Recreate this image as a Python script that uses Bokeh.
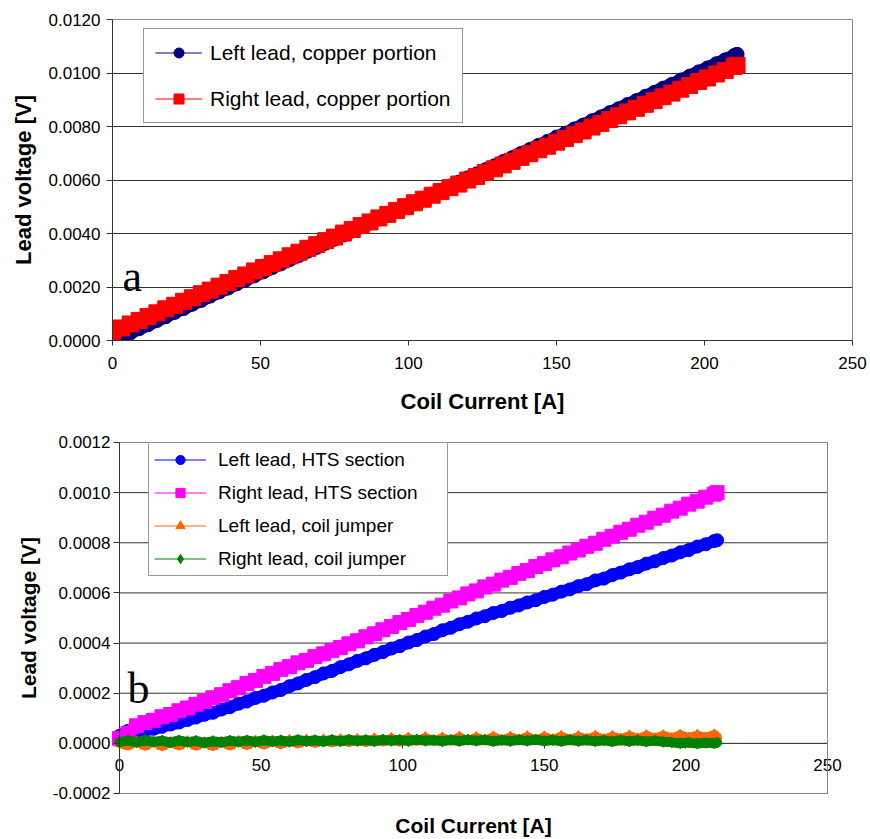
from bokeh.plotting import figure
from bokeh.models import Range1d, FixedTicker, NumeralTickFormatter, Label, LinearAxis
from bokeh.embed import file_html
from bokeh.resources import INLINE

# Coil current sweep [A], shared by every trace
CURRENT = [0, 3, 6, 9, 12, 15, 18, 21, 24, 27,
           30, 33, 36, 39, 42, 45, 48, 51, 54, 57,
           60, 63, 66, 69, 72, 75, 78, 81, 84, 87,
           90, 93, 96, 99, 102, 105, 108, 111, 114, 117,
           120, 123, 126, 129, 132, 135, 138, 141, 144, 147,
           150, 153, 156, 159, 162, 165, 168, 171, 174, 177,
           180, 183, 186, 189, 192, 195, 198, 201, 204, 207,
           210, 211]

# (a) copper portions of the current leads [V]
LEFT_COPPER = [-0.000020, 0.000135, 0.000282, 0.000440, 0.000588, 0.000745, 0.000890, 0.001050, 0.001195, 0.001356,
               0.001500, 0.001660, 0.001812, 0.001958, 0.002118, 0.002262, 0.002420, 0.002568, 0.002728, 0.002872,
               0.003030, 0.003178, 0.003338, 0.003482, 0.003640, 0.003786, 0.003946, 0.004092, 0.004250, 0.004396,
               0.004556, 0.004700, 0.004860, 0.005006, 0.005166, 0.005310, 0.005470, 0.005615, 0.005775, 0.005920,
               0.006080, 0.006226, 0.006384, 0.006530, 0.006690, 0.006835, 0.006994, 0.007140, 0.007300, 0.007445,
               0.007604, 0.007748, 0.007908, 0.008054, 0.008214, 0.008358, 0.008518, 0.008664, 0.008822, 0.008968,
               0.009128, 0.009272, 0.009432, 0.009578, 0.009738, 0.009882, 0.010042, 0.010188, 0.010346, 0.010492,
               0.010652, 0.010700]
RIGHT_COPPER = [0.000330, 0.000468, 0.000618, 0.000752, 0.000900, 0.001034, 0.001184, 0.001318, 0.001466, 0.001600,
                0.001750, 0.001884, 0.002032, 0.002168, 0.002316, 0.002450, 0.002600, 0.002734, 0.002882, 0.003016,
                0.003166, 0.003300, 0.003448, 0.003584, 0.003732, 0.003866, 0.004016, 0.004150, 0.004298, 0.004432,
                0.004582, 0.004716, 0.004864, 0.005000, 0.005148, 0.005282, 0.005432, 0.005566, 0.005714, 0.005848,
                0.005998, 0.006132, 0.006280, 0.006416, 0.006564, 0.006698, 0.006848, 0.006982, 0.007130, 0.007264,
                0.007414, 0.007548, 0.007696, 0.007832, 0.007980, 0.008114, 0.008264, 0.008398, 0.008546, 0.008680,
                0.008830, 0.008964, 0.009112, 0.009248, 0.009396, 0.009530, 0.009680, 0.009814, 0.009962, 0.010096,
                0.010246, 0.010290]

# (b) HTS sections and coil jumpers [V]
LEFT_HTS = [0.000030, 0.000050, 0.000049, 0.000052, 0.000058, 0.000066, 0.000075, 0.000083, 0.000093, 0.000103,
            0.000114, 0.000122, 0.000135, 0.000144, 0.000158, 0.000167, 0.000181, 0.000190, 0.000203, 0.000213,
            0.000228, 0.000239, 0.000253, 0.000264, 0.000279, 0.000289, 0.000304, 0.000315, 0.000329, 0.000339,
            0.000353, 0.000364, 0.000378, 0.000388, 0.000402, 0.000412, 0.000426, 0.000436, 0.000451, 0.000461,
            0.000475, 0.000485, 0.000498, 0.000507, 0.000520, 0.000528, 0.000541, 0.000550, 0.000562, 0.000571,
            0.000584, 0.000593, 0.000605, 0.000614, 0.000627, 0.000635, 0.000650, 0.000657, 0.000671, 0.000681,
            0.000694, 0.000703, 0.000717, 0.000726, 0.000739, 0.000749, 0.000762, 0.000771, 0.000785, 0.000794,
            0.000807, 0.000810]
RIGHT_HTS = [0.000020, 0.000040, 0.000070, 0.000083, 0.000092, 0.000106, 0.000115, 0.000130, 0.000141, 0.000156,
             0.000167, 0.000182, 0.000194, 0.000210, 0.000222, 0.000239, 0.000251, 0.000267, 0.000279, 0.000295,
             0.000306, 0.000321, 0.000331, 0.000346, 0.000357, 0.000371, 0.000382, 0.000397, 0.000409, 0.000425,
             0.000437, 0.000453, 0.000466, 0.000482, 0.000494, 0.000510, 0.000523, 0.000539, 0.000551, 0.000568,
             0.000580, 0.000596, 0.000608, 0.000624, 0.000635, 0.000651, 0.000662, 0.000678, 0.000689, 0.000705,
             0.000717, 0.000732, 0.000744, 0.000759, 0.000771, 0.000786, 0.000798, 0.000814, 0.000826, 0.000842,
             0.000854, 0.000870, 0.000882, 0.000898, 0.000910, 0.000926, 0.000938, 0.000954, 0.000966, 0.000982,
             0.000994, 0.001000]
LEFT_JUMPER = [0.000000, -0.000010, 0.000007, -0.000011, 0.000006, -0.000012, 0.000005, -0.000010, 0.000008, -0.000011,
               0.000004, -0.000012, 0.000006, -0.000010, 0.000009, -0.000008, 0.000010, -0.000006, 0.000011, -0.000005,
               0.000013, -0.000002, 0.000014, 0.000000, 0.000015, 0.000002, 0.000016, 0.000003, 0.000017, 0.000003,
               0.000019, 0.000005, 0.000021, 0.000005, 0.000022, 0.000008, 0.000024, 0.000008, 0.000023, 0.000010,
               0.000026, 0.000010, 0.000025, 0.000012, 0.000027, 0.000012, 0.000026, 0.000014, 0.000028, 0.000013,
               0.000027, 0.000015, 0.000029, 0.000015, 0.000028, 0.000017, 0.000030, 0.000016, 0.000029, 0.000018,
               0.000031, 0.000019, 0.000032, 0.000020, 0.000032, 0.000021, 0.000034, 0.000022, 0.000033, 0.000023,
               0.000035, 0.000028]
RIGHT_JUMPER = [0.000005, 0.000012, 0.000004, 0.000013, 0.000006, 0.000011, 0.000003, 0.000012, 0.000005, 0.000010,
                0.000002, 0.000009, 0.000004, 0.000011, 0.000006, 0.000012, 0.000005, 0.000013, 0.000007, 0.000012,
                0.000006, 0.000014, 0.000008, 0.000013, 0.000007, 0.000014, 0.000008, 0.000015, 0.000009, 0.000014,
                0.000008, 0.000015, 0.000010, 0.000014, 0.000009, 0.000015, 0.000010, 0.000013, 0.000008, 0.000014,
                0.000009, 0.000015, 0.000010, 0.000014, 0.000008, 0.000013, 0.000009, 0.000014, 0.000010, 0.000015,
                0.000009, 0.000013, 0.000008, 0.000014, 0.000009, 0.000013, 0.000008, 0.000012, 0.000007, 0.000013,
                0.000008, 0.000012, 0.000007, 0.000011, 0.000006, 0.000004, 0.000000, 0.000003, -0.000001, 0.000002,
                0.000000, 0.000003]

X_TICKS = [0, 50, 100, 150, 200, 250]
Y_TICKS_A = [0.0, 0.002, 0.004, 0.006, 0.008, 0.010, 0.012]
Y_TICKS_B = [-0.0002, 0.0, 0.0002, 0.0004, 0.0006, 0.0008, 0.0010, 0.0012]

SANS = "Liberation Sans"
SERIF = "Liberation Serif"
INK = "#333333"
FRAME = "#888888"


def style_axis(ax, tick_size, title_size):
    ax.axis_line_color = INK
    ax.axis_line_width = 1
    ax.major_tick_line_color = INK
    ax.major_tick_in = 0
    ax.minor_tick_in = 0
    ax.minor_tick_out = 0
    ax.major_label_text_font = SANS
    ax.major_label_text_font_size = tick_size
    ax.major_label_text_color = "black"
    ax.axis_label_text_font = SANS
    ax.axis_label_text_font_size = title_size
    ax.axis_label_text_font_style = "bold"
    ax.axis_label_text_color = "black"


def style_legend(leg, loc, pad, spacing, gw, gh, standoff, font_size, label_w):
    leg.location = loc
    leg.padding = pad
    leg.spacing = spacing
    leg.margin = 0
    leg.glyph_width = gw
    leg.glyph_height = gh
    leg.label_standoff = standoff
    leg.label_width = label_w
    leg.label_text_font = SANS
    leg.label_text_font_size = font_size
    leg.label_text_color = "black"
    leg.border_line_color = INK
    leg.border_line_width = 1
    leg.background_fill_color = "white"
    leg.background_fill_alpha = 1.0


def trace(p, y, color, marker, size, label):
    # dense measurement trace: a band the width of the markers, markers on top,
    # and a thin connecting line that also feeds the legend entry
    p.line(CURRENT, y, color=color, line_width=size - 1, line_join="round", line_cap="round")
    p.line(CURRENT, y, color=color, line_width=1, legend_label=label)
    p.scatter(CURRENT, y, marker=marker, size=size, color=color, legend_label=label)


# ---- (a) copper portions ----
p1 = figure(width=870, height=420, output_backend="svg", toolbar_location=None,
            x_range=Range1d(0, 250), y_range=Range1d(0, 0.012),
            min_border_left=112, min_border_right=18, min_border_top=19, min_border_bottom=80)
p1.xaxis.axis_label = "Coil Current [A]"
p1.yaxis.axis_label = "Lead voltage [V]"
p1.xaxis.ticker = FixedTicker(ticks=X_TICKS)
p1.yaxis.ticker = FixedTicker(ticks=Y_TICKS_A)
p1.yaxis.formatter = NumeralTickFormatter(format="0.0000")
for ax in p1.xaxis + p1.yaxis:
    style_axis(ax, "17px", "22px")
p1.yaxis.major_tick_out = 6
p1.yaxis.major_label_standoff = 6
p1.yaxis.axis_label_standoff = 10
p1.xaxis.major_tick_out = 5
p1.xaxis.major_label_standoff = 11
p1.xaxis.axis_label_standoff = 17
p1.xgrid.visible = False
p1.ygrid.grid_line_color = INK
p1.outline_line_color = FRAME
p1.border_fill_color = "white"

trace(p1, LEFT_COPPER, "#000080", "circle", 14, "Left lead, copper portion")
trace(p1, RIGHT_COPPER, "#FF0000", "square", 16, "Right lead, copper portion")

p1.add_layout(Label(x=3.4, y=0.00241, text="a", text_font=SERIF, text_font_size="44px",
                    text_color="black", text_baseline="alphabetic"))
style_legend(p1.legend[0], (31, 217), 11, 21, 47, 25, 8, "21px", 240)

# ---- (b) HTS sections and coil jumpers ----
# The frame covers the whole canvas so the current axis can sit on the zero line
# with its end labels fully visible; the ranges place 0..250 A between x=119 and
# x=827 and -0.0002..0.0012 V between y=371 and y=22.
p2 = figure(width=870, height=419, output_backend="svg", toolbar_location=None,
            x_range=Range1d(-42.02, 265.18), y_range=Range1d(-0.0003835, 0.0012877),
            min_border=0, x_axis_type=None, y_axis_type=None)
p2.outline_line_color = None
p2.border_fill_color = "white"

x_axis = LinearAxis(fixed_location=0, bounds=(0, 250), ticker=FixedTicker(ticks=X_TICKS),
                    axis_label="Coil Current [A]")
style_axis(x_axis, "17px", "21px")
x_axis.major_tick_out = 5
x_axis.major_label_standoff = 11
x_axis.axis_label_standoff = 39
x_axis.axis_line_color = FRAME
x_axis.level = "underlay"
p2.add_layout(x_axis, "below")

y_axis = LinearAxis(fixed_location=0, bounds=(-0.0002, 0.0012), ticker=FixedTicker(ticks=Y_TICKS_B),
                    formatter=NumeralTickFormatter(format="0.0000"), axis_label="Lead voltage [V]")
style_axis(y_axis, "17px", "21px")
y_axis.major_tick_out = 6
y_axis.major_label_standoff = 3
y_axis.axis_label_standoff = 10
p2.add_layout(y_axis, "left")

# horizontal grid over the plotting area, then the plot-area border
p2.segment(x0=0, x1=250, y0=Y_TICKS_B, y1=Y_TICKS_B, line_color=INK, line_width=1)
p2.quad(left=0, right=250, bottom=Y_TICKS_B[0], top=Y_TICKS_B[-1],
        fill_color=None, line_color=FRAME, line_width=1)

trace(p2, LEFT_HTS, "#0000FF", "circle", 13, "Left lead, HTS section")
trace(p2, RIGHT_HTS, "#FF00FF", "square", 14, "Right lead, HTS section")
trace(p2, LEFT_JUMPER, "#FF6600", "triangle", 10, "Left lead, coil jumper")
trace(p2, RIGHT_JUMPER, "#008000", "diamond", 11, "Right lead, coil jumper")

p2.add_layout(Label(x=2.8, y=0.000218, text="b", text_font=SERIF, text_font_size="44px",
                    text_color="black", text_baseline="alphabetic"))
style_legend(p2.legend[0], (148, 263), 5, 10, 52, 23, 12, "19px", 224)

open("out.html", "w").write(file_html([p1, p2], INLINE))
